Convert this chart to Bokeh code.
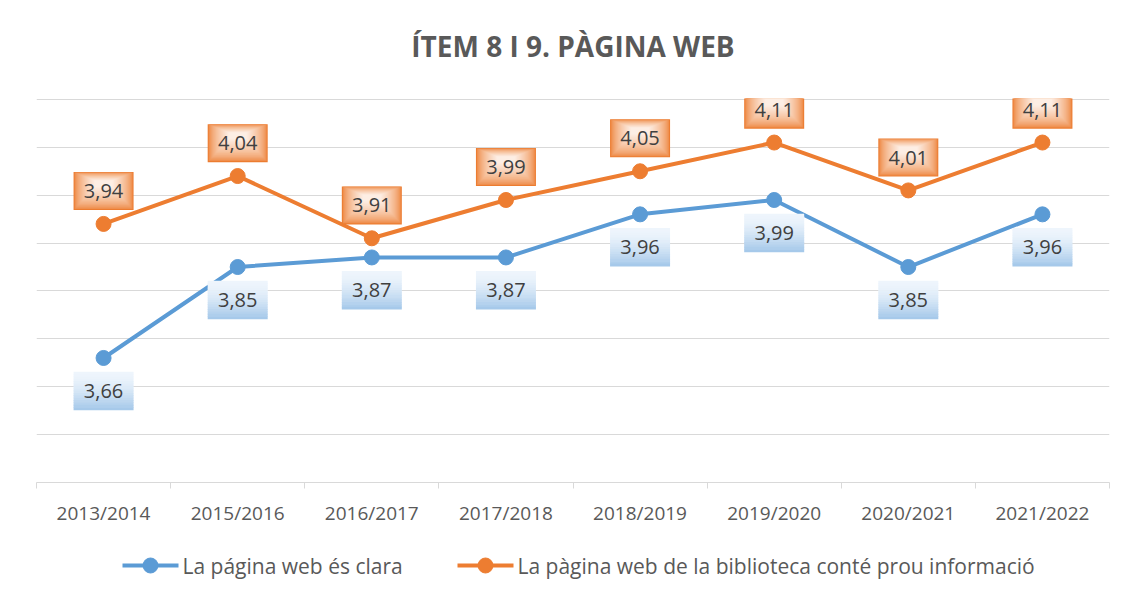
from bokeh.plotting import figure
from bokeh.layouts import column
from bokeh.models import Range1d, FixedTicker, CustomJSTickFormatter
from bokeh.core.properties import value
from bokeh.embed import file_html
from bokeh.resources import INLINE

# ---- data ----
categories = ["2013/2014", "2015/2016", "2016/2017", "2017/2018",
              "2018/2019", "2019/2020", "2020/2021", "2021/2022"]
clara = [3.66, 3.85, 3.87, 3.87, 3.96, 3.99, 3.85, 3.96]
informacio = [3.94, 4.04, 3.91, 3.99, 4.05, 4.11, 4.01, 4.11]
series_names = ["La página web és clara",
                "La pàgina web de la biblioteca conté prou informació"]
grid_values = [3.4, 3.5, 3.6, 3.7, 3.8, 3.9, 4.0, 4.1, 4.2]
title_text = "ÍTEM 8 I 9. PÀGINA WEB"

BLUE = "#5B9BD5"
ORANGE = "#ED7D31"
FONT = "Open Sans"

Y0, Y1 = 3.4, 4.2
FRAME_W, FRAME_H = 1073, 384
PPU = FRAME_H / (Y1 - Y0)  # pixels per data unit
TITLE_H = 80
LEFT, RIGHT, TOP, BOTTOM = 36, 20, 98 - TITLE_H, 60
TOTAL_W = LEFT + FRAME_W + RIGHT
X0 = LEFT + 1  # left edge of the frames in page pixels

xs = [i + 0.5 for i in range(len(categories))]


def strip(height):
    f = figure(width=TOTAL_W, height=height, x_range=Range1d(X0, X0 + FRAME_W),
               y_range=Range1d(0, height), output_backend="svg", toolbar_location=None,
               x_axis_location=None, y_axis_location=None,
               min_border_left=LEFT, min_border_right=RIGHT, min_border_top=0,
               min_border_bottom=0)
    f.grid.visible = False
    f.outline_line_color = None
    return f


# ---- title strip ----
tf = strip(TITLE_H)
tf.text([X0 + FRAME_W / 2], [TITLE_H - 45], text=[title_text], text_align="center",
        text_baseline="middle", text_font=value(FONT), text_font_size="28px",
        text_font_style="bold", text_color="#595959")

# ---- main chart ----
p = figure(frame_width=FRAME_W, frame_height=FRAME_H,
           x_range=Range1d(0, len(categories)), y_range=Range1d(Y0 - 0.0001, Y1 + 0.002),
           output_backend="svg", toolbar_location=None,
           min_border_left=LEFT, min_border_right=RIGHT,
           min_border_top=TOP, min_border_bottom=BOTTOM)
p.title.visible = False
p.outline_line_color = None
p.background_fill_color = "white"
p.border_fill_color = "white"

p.yaxis.visible = False
p.xgrid.visible = False
p.ygrid.ticker = FixedTicker(ticks=grid_values)
p.ygrid.grid_line_color = "#D9D9D9"
p.ygrid.grid_line_width = 1

ax = p.xaxis[0]
ax.ticker = FixedTicker(ticks=xs, minor_ticks=list(range(len(categories) + 1)))
ax.formatter = CustomJSTickFormatter(args=dict(labels=categories),
                                     code="return labels[Math.floor(tick)];")
ax.axis_line_color = "#D9D9D9"
ax.major_tick_line_color = None
ax.major_tick_out = 0
ax.major_tick_in = 0
ax.minor_tick_line_color = "#D9D9D9"
ax.minor_tick_out = 6
ax.minor_tick_in = 0
ax.major_label_standoff = 11
ax.major_label_text_font = FONT
ax.major_label_text_font_size = "19px"
ax.major_label_text_color = "#595959"

p.line(xs, clara, line_width=4, color=BLUE)
p.scatter(xs, clara, size=15, color=BLUE)
p.line(xs, informacio, line_width=4, color=ORANGE)
p.scatter(xs, informacio, size=15, color=ORANGE)

BOX_W, BOX_H = 60, 38
OFF = 33  # px between point and label centre


def mix(c1, c2, t):
    return "#%02x%02x%02x" % tuple(int(round(a + (b - a) * t)) for a, b in zip(c1, c2))


# orange labels: soft radial-like gradient above points
n_layers = 22
for k in range(n_layers):
    t = k / (n_layers - 1)
    w = BOX_W - k * 2.0
    h = BOX_H - k * 1.5
    dy = (OFF + k * 0.35) / PPU
    p.rect(xs, [v + dy for v in informacio], width=w, height=h,
           width_units="screen", height_units="screen",
           fill_color=mix((236, 124, 48), (253, 238, 228), t ** 0.6), line_color=None)

# blue labels: vertical gradient below points
n_strips = 16
sh = BOX_H / n_strips
for k in range(n_strips):
    t = k / (n_strips - 1)  # 0 = top, 1 = bottom
    centre_px = -OFF + BOX_H / 2 - sh * (k + 0.5)
    p.rect(xs, [v + centre_px / PPU for v in clara], width=BOX_W, height=sh + 0.6,
           width_units="screen", height_units="screen",
           fill_color=mix((238, 245, 252), (166, 201, 234), t ** 1.6), line_color=None)

lab_o = [f"{v:.2f}".replace(".", ",") for v in informacio]
lab_b = [f"{v:.2f}".replace(".", ",") for v in clara]
p.text(xs, [v + OFF / PPU for v in informacio], text=lab_o,
       text_align="center", text_baseline="middle",
       text_font=value(FONT), text_font_size="20px", text_color="#404040")
p.text(xs, [v - OFF / PPU for v in clara], text=lab_b,
       text_align="center", text_baseline="middle",
       text_font=value(FONT), text_font_size="20px", text_color="#404040")

# ---- legend strip ----
LEG_H = 56
lg = strip(LEG_H)
ly = LEG_H - 23
legend_x = [123, 458]
for x0, name, col in zip(legend_x, series_names, [BLUE, ORANGE]):
    lg.line([x0, x0 + 56], [ly, ly], line_width=4, color=col)
    lg.scatter([x0 + 28], [ly], size=15, color=col)
    lg.text([x0 + 60], [ly], text=[name], text_align="left", text_baseline="middle",
            text_font=value(FONT), text_font_size="21px", text_color="#595959")

layout = column(tf, p, lg, spacing=0)
open("out.html", "w").write(file_html(layout, INLINE))
